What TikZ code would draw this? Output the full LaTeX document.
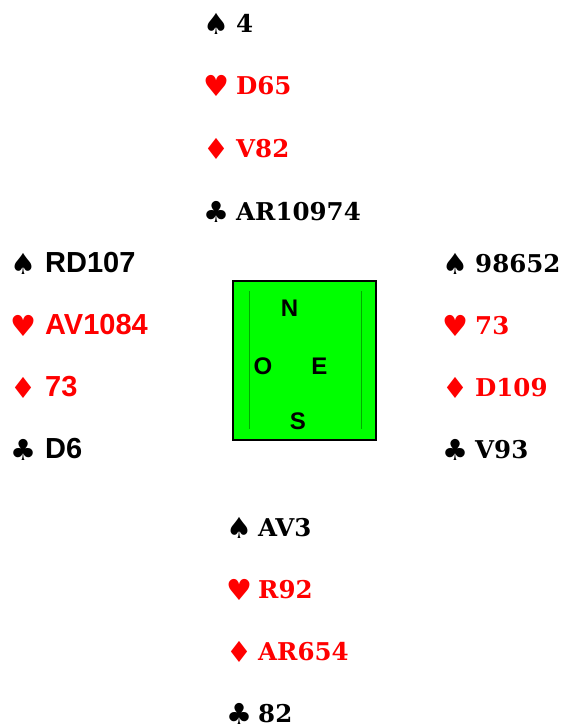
\documentclass[tikz,border=0pt]{standalone}
\usepackage{fontspec}
\setmainfont{DejaVu Serif}
\newfontfamily\westfont{Liberation Sans}
\newfontfamily\suitfont{DejaVu Sans}
\usepackage{tikz}
\usetikzlibrary{positioning}
\definecolor{tablegreen}{RGB}{0,255,0}
\definecolor{lineg}{RGB}{0,170,0}
\definecolor{cardred}{RGB}{255,0,0}
\tikzset{
  suit/.style={anchor=base west,inner sep=0pt,font=\suitfont\fontsize{29}{29}\selectfont},
  cards/.style={anchor=base west,inner sep=0pt,font=\bfseries\fontsize{24.5}{24.5}\selectfont},
  wcards/.style={anchor=base west,inner sep=0pt,font=\westfont\bfseries\fontsize{29}{29}\selectfont},
  wind/.style={inner sep=0pt,font=\westfont\bfseries\fontsize{24}{24}\selectfont}
}

\begin{document}
\begin{tikzpicture}[x=1pt,y=-1pt]
    \useasboundingbox (0,0) rectangle (564,724);
    % North
    \foreach \st/\cl/\crd [count=\i from 0] in {♠/black/4,♥/cardred/D65,♦/cardred/V82,♣/black/AR10974}{
        \node[suit,text=\cl] (nsuit\i) at (203,{34+62.7*\i}) {\st};
        \node[cards,text=\cl] (ncards\i) at (236,{32+62.7*\i}) {\crd};
    }
    % West
    \foreach \st/\cl/\crd [count=\i from 0] in {♠/black/RD107,♥/cardred/AV1084,♦/cardred/73,♣/black/D6}{
        \node[suit,text=\cl] (wsuit\i) at (10,{274.5+62*\i}) {\st};
        \node[wcards,text=\cl] (wcards\i) at (45,{272.5+62*\i}) {\crd};
    }
    % East
    \foreach \st/\cl/\crd [count=\i from 0] in {♠/black/98652,♥/cardred/73,♦/cardred/D109,♣/black/V93}{
        \node[suit,text=\cl] (esuit\i) at (442,{274+62*\i}) {\st};
        \node[cards,text=\cl] (ecards\i) at (475,{272+62*\i}) {\crd};
    }
    % South
    \foreach \st/\cl/\crd [count=\i from 0] in {♠/black/AV3,♥/cardred/R92,♦/cardred/AR654,♣/black/82}{
        \node[suit,text=\cl] (ssuit\i) at (226,{538+62.3*\i}) {\st};
        \node[cards,text=\cl] (scards\i) at (258,{536+62.3*\i}) {\crd};
    }
    % table
    \draw[line width=2pt,fill=tablegreen] (233,281) rectangle (376,440);
    \draw[lineg,line width=0.6pt] (249.5,291) -- (249.5,429);
    \draw[lineg,line width=0.6pt] (361.5,291) -- (361.5,429);
    \begin{scope}
        \clip (233,281) rectangle (376,429.5);
        \node[wind] (north) at (289.5,308) {N};
        \node[wind] (west) at (263,366) {O};
        \node[wind] (east) at (319.5,366) {E};
        \node[wind] (south) at (298,421) {S};
    \end{scope}
\end{tikzpicture}
\end{document}
